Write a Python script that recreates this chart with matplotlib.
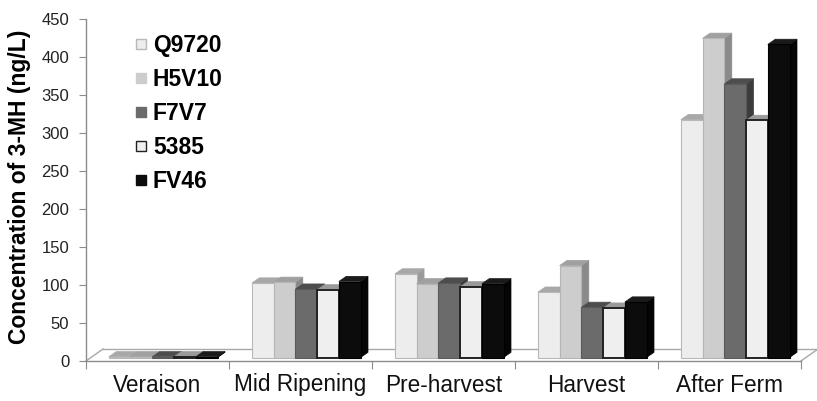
import numpy as np
import matplotlib.pyplot as plt
from matplotlib.patches import Polygon
from matplotlib.lines import Line2D

plt.rcParams['font.family'] = ['Liberation Sans', 'DejaVu Sans']

stages = ["Veraison", "Mid Ripening", "Pre-harvest", "Harvest", "After Ferm"]
strains = ["Q9720", "H5V10", "F7V7", "5385", "FV46"]

# 3-MH concentration (ng/L) per strain at each stage
q9720 = [1, 98, 110, 86, 313]
h5v10 = [1, 99, 97, 121, 420]
f7v7 = [1, 90, 98, 66, 360]
s5385 = [1, 89, 93, 65, 312]
fv46 = [1, 100, 97, 73, 412]
series = [q9720, h5v10, f7v7, s5385, fv46]

# face, roof, side, edge colour, edge width
styles = [
    ("#ededed", "#a8a8a8", "#9a9a9a", "#b8b8b8", 0.8),
    ("#cdcdcd", "#a0a0a0", "#8a8a8a", "#b5b5b5", 0.8),
    ("#6b6b6b", "#4d4d4d", "#3c3c3c", "#5a5a5a", 0.8),
    ("#efefef", "#9a9a9a", "#8a8a8a", "#222222", 1.4),
    ("#0c0c0c", "#1a1a1a", "#050505", "#000000", 0.8),
]

BAR_W = 0.152      # column width in category units
OFFSET = 0.16      # first column start inside a category
LIFT = 4.6         # columns stand a little behind the front edge
DX, DY = 0.052, 6.8  # column depth
FX, FY = 0.119, 15.8  # floor depth


def draw_column(ax, x, h, face, roof, side, edge, lw):
    x0, x1 = x, x + BAR_W
    y0, y1 = LIFT, LIFT + h
    ax.add_patch(Polygon([(x1, y0), (x1 + DX, y0 + DY), (x1 + DX, y1 + DY), (x1, y1)],
                         closed=True, fc=side, ec=side, lw=0.5, zorder=2))
    ax.add_patch(Polygon([(x0, y1), (x0 + DX, y1 + DY), (x1 + DX, y1 + DY), (x1, y1)],
                         closed=True, fc=roof, ec=roof, lw=0.5, zorder=2))
    ax.bar(x0, h, width=BAR_W, bottom=y0, align='edge', color=face,
           edgecolor=edge, linewidth=lw, zorder=2)


fig = plt.figure(figsize=(8.17, 4.01), dpi=100)
ax = fig.add_axes([86 / 817, 40 / 401, 715 / 817, 342 / 401])

n = len(stages)
ax.set_xlim(0, n)
ax.set_ylim(0, 450)

# floor outline
floor_kw = dict(color="#a8a8a8", lw=1, clip_on=False, zorder=1)
ax.plot([FX, n + FX], [FY, FY], **floor_kw)
ax.plot([0, FX], [0, FY], **floor_kw)
ax.plot([n, n + FX], [0, FY], **floor_kw)

for k in range(n):
    for i, vals in enumerate(series):
        draw_column(ax, k + OFFSET + i * BAR_W, vals[k], *styles[i])

for side in ["top", "right"]:
    ax.spines[side].set_visible(False)
for side in ["left", "bottom"]:
    ax.spines[side].set_color("#8c8c8c")
    ax.spines[side].set_linewidth(1)

ax.set_yticks(np.arange(0, 451, 50))
ax.tick_params(axis="y", length=5, color="#8c8c8c", labelsize=12,
               labelcolor="#222222", pad=7)

ax.set_xticks(np.arange(0, n + 1))
ax.set_xticks(np.arange(n) + 0.5, minor=True)
ax.set_xticklabels([])
ax.set_xticklabels(stages, minor=True)
ax.tick_params(axis="x", which="major", length=6, color="#8c8c8c")
ax.tick_params(axis="x", which="minor", length=0, labelsize=16.3,
               labelcolor="#111111", pad=9)

fig.text(20 / 817, 0.535, "Concentration of 3-MH (ng/L)", rotation=90,
         ha="center", va="center", fontsize=16.5, fontweight="bold")

handles = [Line2D([], [], ls="", marker="s", markersize=7.3,
                  markerfacecolor=s[0],
                  markeredgecolor=s[3] if i in (0, 3) else s[0],
                  markeredgewidth=1) for i, s in enumerate(styles)]
ax.legend(handles, strains, loc="upper left", bbox_to_anchor=(0.068, 0.955),
          frameon=False, prop=dict(size=16.5, weight="bold"),
          handlelength=0.6, handletextpad=0.2,
          labelspacing=0.48, borderaxespad=0, borderpad=0)

fig.savefig("out.png", dpi=100)
